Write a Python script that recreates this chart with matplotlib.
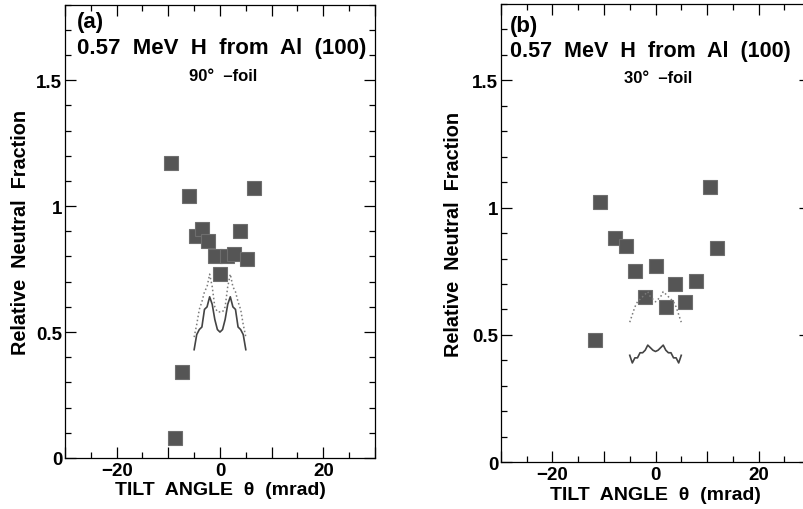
import matplotlib
matplotlib.use("Agg")
import matplotlib.pyplot as plt
from matplotlib.ticker import MultipleLocator, FuncFormatter

plt.rcParams['font.family'] = ['Liberation Sans', 'DejaVu Sans']
plt.rcParams['font.weight'] = 'bold'

# measured points, panel (a) 90 deg foil
tilt_a = [-9.5, -6.0, -4.7, -3.5, -2.3, -1.0, 0.1, 1.4, 2.7, 3.9, 5.2, 6.5, -7.4, -8.7]
frac_a = [1.17, 1.04, 0.88, 0.91, 0.86, 0.80, 0.73, 0.80, 0.81, 0.90, 0.79, 1.07, 0.34, 0.08]

# measured points, panel (b) 30 deg foil
tilt_b = [-10.7, -7.9, -5.8, -4.0, -2.0, 0.0, 2.0, 3.8, 5.8, 7.8, 10.6, 11.9, -11.8]
frac_b = [1.02, 0.88, 0.85, 0.75, 0.65, 0.77, 0.61, 0.70, 0.63, 0.71, 1.08, 0.84, 0.48]

# simulation curves
sim_x = [-5, -4.5, -4, -3.5, -3, -2.5, -2, -1.5, -1, -0.5, 0,
         0.5, 1, 1.5, 2, 2.5, 3, 3.5, 4, 4.5, 5]
solid_a = [0.43, 0.49, 0.51, 0.52, 0.59, 0.60, 0.64, 0.61, 0.55, 0.51, 0.50,
           0.51, 0.55, 0.61, 0.64, 0.60, 0.59, 0.52, 0.51, 0.49, 0.43]
dotted_a = [0.48, 0.53, 0.59, 0.62, 0.66, 0.68, 0.73, 0.68, 0.60, 0.58, 0.58,
            0.58, 0.60, 0.68, 0.73, 0.68, 0.66, 0.62, 0.59, 0.53, 0.48]
solid_b = [0.42, 0.39, 0.41, 0.41, 0.43, 0.43, 0.44, 0.46, 0.45, 0.44, 0.435,
           0.44, 0.45, 0.46, 0.44, 0.43, 0.43, 0.41, 0.41, 0.39, 0.42]
dotted_b = [0.55, 0.58, 0.61, 0.63, 0.64, 0.65, 0.66, 0.67, 0.65, 0.64, 0.63,
            0.64, 0.65, 0.67, 0.66, 0.65, 0.64, 0.63, 0.61, 0.58, 0.55]

panels = [
    dict(rect=[0.0808, 0.100, 0.3856, 0.889], tag='(a)', foil='90\u00b0  \u2013foil',
         px=tilt_a, py=frac_a, solid=solid_a, dotted=dotted_a, tx=0.039, tsize=16,
         tag_y=0.963, title_y=0.905, foil_y=0.844, ylab_x=-0.113, xlab_y=-0.051),
    dict(rect=[0.6231, 0.0916, 0.3844, 0.899], tag='(b)', foil='30\u00b0  \u2013foil',
         px=tilt_b, py=frac_b, solid=solid_b, dotted=dotted_b, tx=0.029, tsize=15.5,
         tag_y=0.953, title_y=0.898, foil_y=0.839, ylab_x=-0.123, xlab_y=-0.052),
]


def xfmt(v, pos):
    if round(v) % 20 == 0 and abs(v) < 25:
        return '\u221220' if v < 0 else '%d' % v
    return ''


fig = plt.figure(figsize=(8.04, 5.10), dpi=100)

for p in panels:
    ax = fig.add_axes(p['rect'])
    ax.plot(p['px'], p['py'], 's', ms=9.5, color='#555555', mec='#6e6e6e', mew=0.8)
    ax.plot(sim_x, p['solid'], '-', color='#444444', lw=1.2)
    ax.plot(sim_x, p['dotted'], ':', color='#7a7a7a', lw=1.1)

    ax.set_xlim(-30, 30)
    ax.set_ylim(0, 1.8)
    ax.xaxis.set_major_locator(MultipleLocator(10))
    ax.xaxis.set_minor_locator(MultipleLocator(5))
    ax.xaxis.set_major_formatter(FuncFormatter(xfmt))
    ax.yaxis.set_major_locator(MultipleLocator(0.5))
    ax.yaxis.set_minor_locator(MultipleLocator(0.1))
    ax.yaxis.set_major_formatter(FuncFormatter(lambda v, pos: '%g' % v if v < 1.6 else ''))
    ax.tick_params(which='both', direction='in', top=True, right=True, labelsize=13.5, width=0.9)
    ax.tick_params(which='major', length=8)
    ax.tick_params(which='minor', length=4)
    ax.tick_params(axis='x', which='major', pad=3)
    ax.tick_params(axis='y', which='major', pad=2)
    for s in ax.spines.values():
        s.set_linewidth(0.9)

    ax.text(p['tx'], p['tag_y'], p['tag'], transform=ax.transAxes, fontsize=16,
            fontweight='bold', va='center', ha='left')
    ax.text(p['tx'], p['title_y'], '0.57  MeV  H  from  Al  (100)', transform=ax.transAxes,
            fontsize=p['tsize'], fontweight='bold', va='center', ha='left')
    ax.text(0.51, p['foil_y'], p['foil'], transform=ax.transAxes, fontsize=12,
            fontweight='bold', va='center', ha='center')

    ax.set_ylabel('Relative  Neutral  Fraction', fontsize=14.3, fontweight='bold')
    ax.yaxis.set_label_coords(p['ylab_x'], 0.5)
    ax.set_xlabel('TILT  ANGLE  \u03b8  (mrad)', fontsize=14, fontweight='bold')
    ax.xaxis.set_label_coords(0.5, p['xlab_y'])

fig.savefig('out.png', dpi=100)
